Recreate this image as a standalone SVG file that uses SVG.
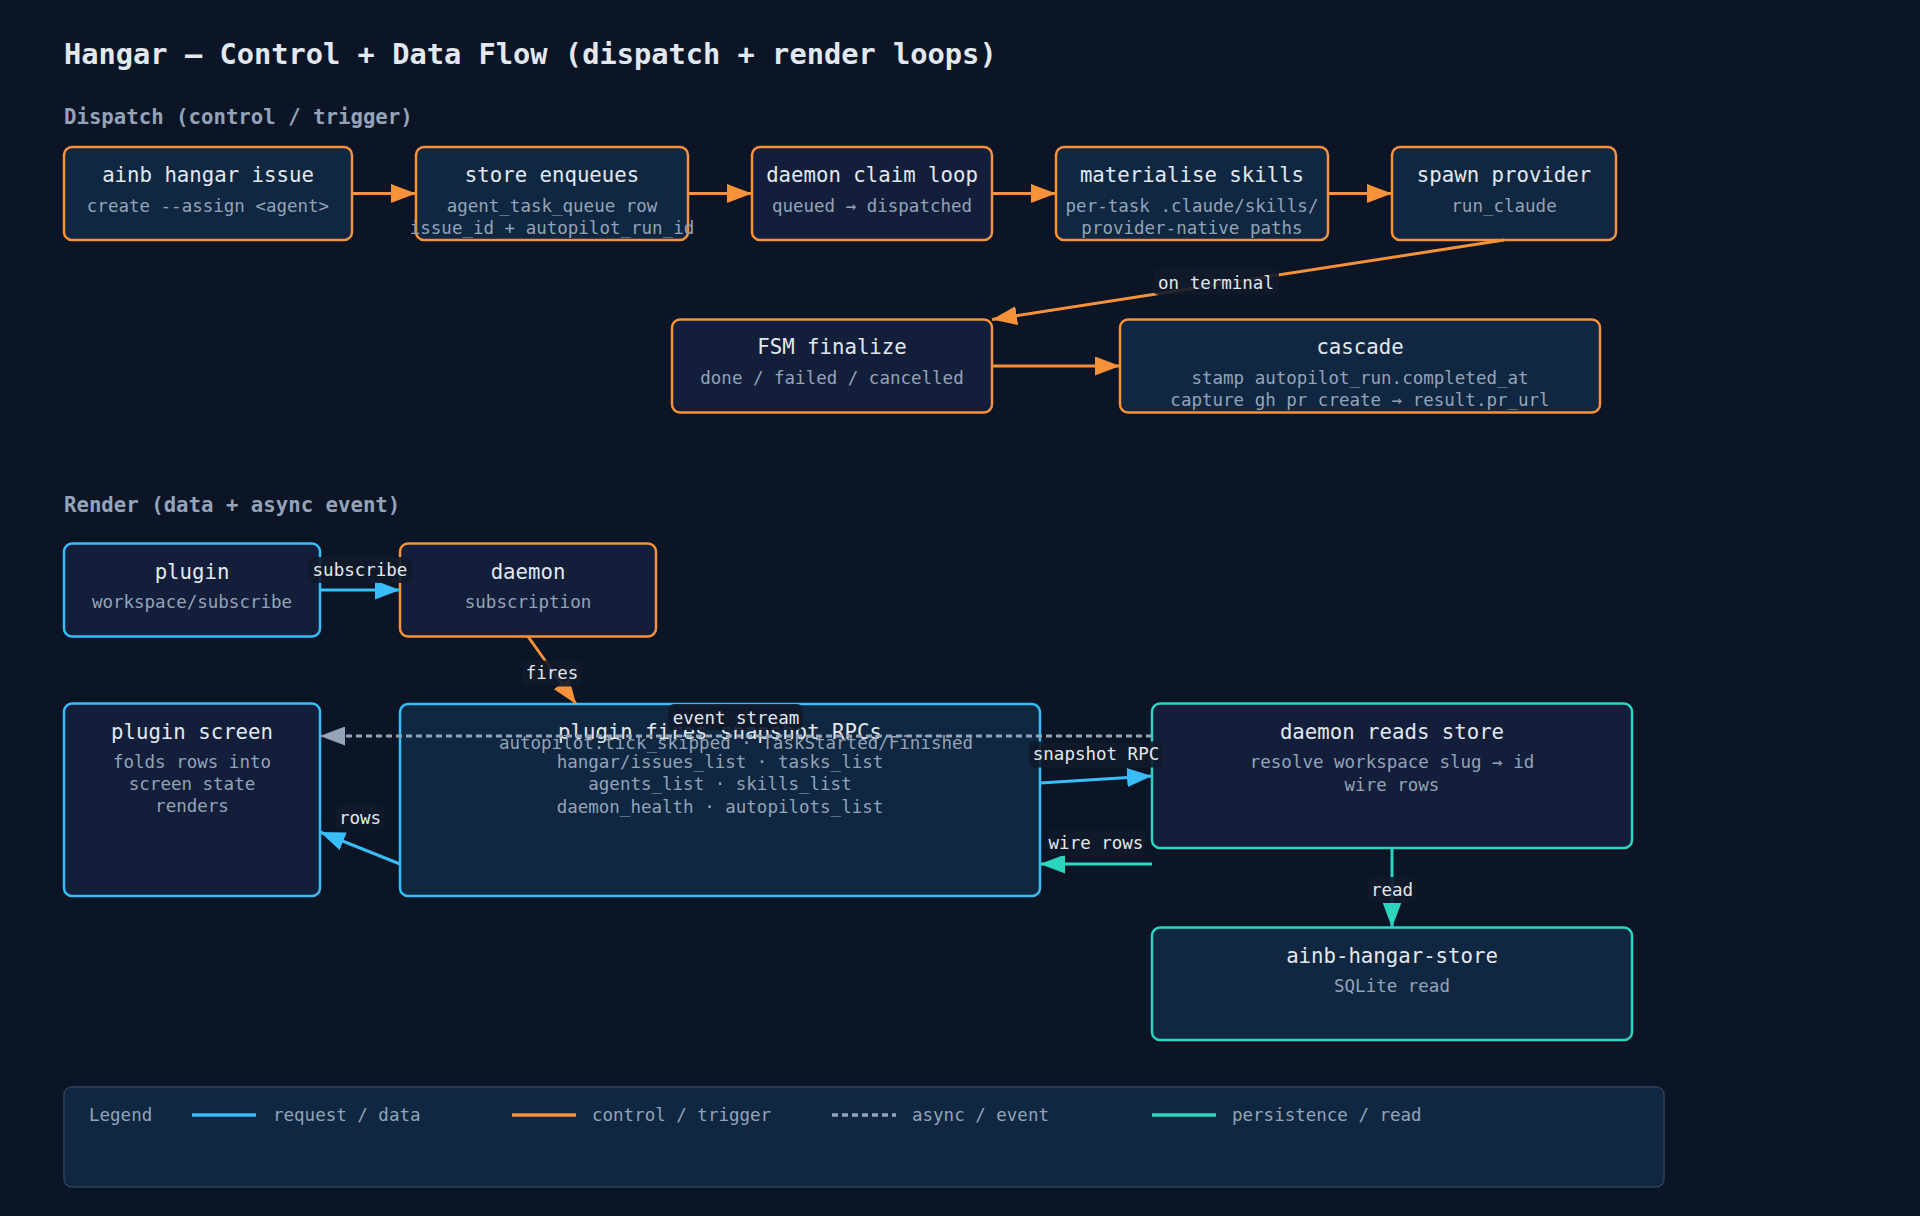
<svg xmlns="http://www.w3.org/2000/svg" width="1920" height="1216" viewBox="0 0 1920 1216">
<style>
text{font-family:"DejaVu Sans Mono","Liberation Mono",monospace}
.title{font-size:28.7px;font-weight:bold;fill:#e2e8f0}
.sec{font-size:20.7px;font-weight:bold;fill:#94a3b8}
.nt{font-size:20.7px;fill:#e2e8f0;text-anchor:middle}
.ns{font-size:17.5px;fill:#94a3b8;text-anchor:middle}
.el{font-size:17.5px;fill:#e2e8f0;text-anchor:middle}
.lg{font-size:17.5px;fill:#94a3b8}
.nb{fill:#0f2741;stroke-width:2.5}
.np{fill:#131f3a;stroke-width:2.5}
.so{stroke:#f7913a}
.sb{stroke:#38bdf8}
.st{stroke:#2dd4bf}
.e{fill:none;stroke-width:3}
.pill{fill:#0f1a2b;fill-opacity:0.9}
</style>
<defs>
<marker id="ao" markerUnits="userSpaceOnUse" markerWidth="25" markerHeight="19" refX="25" refY="9.5" orient="auto"><path d="M0,0 L25,9.5 L0,19 z" fill="#f7913a"/></marker>
<marker id="ab" markerUnits="userSpaceOnUse" markerWidth="25" markerHeight="19" refX="25" refY="9.5" orient="auto"><path d="M0,0 L25,9.5 L0,19 z" fill="#38bdf8"/></marker>
<marker id="at" markerUnits="userSpaceOnUse" markerWidth="25" markerHeight="19" refX="25" refY="9.5" orient="auto"><path d="M0,0 L25,9.5 L0,19 z" fill="#2dd4bf"/></marker>
<marker id="ag" markerUnits="userSpaceOnUse" markerWidth="25" markerHeight="19" refX="25" refY="9.5" orient="auto"><path d="M0,0 L25,9.5 L0,19 z" fill="#94a3b8"/></marker>
</defs>
<rect width="1920" height="1216" fill="#0b1526"/>
<text class="title" x="64" y="64">Hangar — Control + Data Flow (dispatch + render loops)</text>
<text class="sec" x="64" y="124">Dispatch (control / trigger)</text>
<text class="sec" x="64" y="512">Render (data + async event)</text>

<g id="n-issue"><rect class="nb so" x="64" y="147" width="288" height="93" rx="8"/><text class="nt" x="208" y="182">ainb hangar issue</text><text class="ns" x="208" y="212">create --assign &lt;agent&gt;</text></g>
<g id="n-enqueue"><rect class="nb so" x="416" y="147" width="272" height="93" rx="8"/><text class="nt" x="552" y="182">store enqueues</text><text class="ns" x="552" y="212">agent_task_queue row</text><text class="ns" x="552" y="234">issue_id + autopilot_run_id</text></g>
<g id="n-claim"><rect class="np so" x="752" y="147" width="240" height="93" rx="8"/><text class="nt" x="872" y="182">daemon claim loop</text><text class="ns" x="872" y="212">queued → dispatched</text></g>
<g id="n-skills"><rect class="nb so" x="1056" y="147" width="272" height="93" rx="8"/><text class="nt" x="1192" y="182">materialise skills</text><text class="ns" x="1192" y="212">per-task .claude/skills/</text><text class="ns" x="1192" y="234">provider-native paths</text></g>
<g id="n-spawn"><rect class="nb so" x="1392" y="147" width="224" height="93" rx="8"/><text class="nt" x="1504" y="182">spawn provider</text><text class="ns" x="1504" y="212">run_claude</text></g>
<g id="n-fsm"><rect class="np so" x="672" y="319.5" width="320" height="93" rx="8"/><text class="nt" x="832" y="354">FSM finalize</text><text class="ns" x="832" y="384">done / failed / cancelled</text></g>
<g id="n-cascade"><rect class="nb so" x="1120" y="319.5" width="480" height="93" rx="8"/><text class="nt" x="1360" y="354">cascade</text><text class="ns" x="1360" y="384">stamp autopilot_run.completed_at</text><text class="ns" x="1360" y="406">capture gh pr create → result.pr_url</text></g>

<g id="n-plugin"><rect class="np sb" x="64" y="543.5" width="256" height="93" rx="8"/><text class="nt" x="192" y="579">plugin</text><text class="ns" x="192" y="608">workspace/subscribe</text></g>
<g id="n-daemon"><rect class="np so" x="400" y="543.5" width="256" height="93" rx="8"/><text class="nt" x="528" y="579">daemon</text><text class="ns" x="528" y="608">subscription</text></g>
<g id="n-screen"><rect class="np sb" x="64" y="703.5" width="256" height="192.5" rx="8"/><text class="nt" x="192" y="739">plugin screen</text><text class="ns" x="192" y="768">folds rows into</text><text class="ns" x="192" y="790">screen state</text><text class="ns" x="192" y="812">renders</text></g>
<g id="n-fires"><rect class="nb sb" x="400" y="704" width="640" height="192" rx="8"/><text class="nt" x="720" y="739">plugin fires snapshot RPCs</text><text class="ns" x="720" y="768">hangar/issues_list · tasks_list</text><text class="ns" x="720" y="790">agents_list · skills_list</text><text class="ns" x="720" y="813">daemon_health · autopilots_list</text></g>
<g id="n-reads"><rect class="np st" x="1152" y="703.5" width="480" height="144.5" rx="8"/><text class="nt" x="1392" y="739">daemon reads store</text><text class="ns" x="1392" y="768">resolve workspace slug → id</text><text class="ns" x="1392" y="791">wire rows</text></g>
<g id="n-store"><rect class="nb st" x="1152" y="927.5" width="480" height="112.5" rx="8"/><text class="nt" x="1392" y="963">ainb-hangar-store</text><text class="ns" x="1392" y="992">SQLite read</text></g>

<g id="connectors">
<line class="e so" x1="352" y1="193.5" x2="416" y2="193.5" marker-end="url(#ao)"/>
<line class="e so" x1="688" y1="193.5" x2="752" y2="193.5" marker-end="url(#ao)"/>
<line class="e so" x1="992" y1="193.5" x2="1056" y2="193.5" marker-end="url(#ao)"/>
<line class="e so" x1="1328" y1="193.5" x2="1392" y2="193.5" marker-end="url(#ao)"/>
<line class="e so" x1="1504" y1="240" x2="992" y2="319.5" marker-end="url(#ao)"/>
<rect class="pill" x="1153" y="269" width="126" height="26" rx="6"/>
<text class="el" x="1216" y="288.5">on terminal</text>
<line class="e so" x1="992" y1="366" x2="1120" y2="366" marker-end="url(#ao)"/>

<line class="e sb" x1="320" y1="590" x2="400" y2="590" marker-end="url(#ab)"/>
<rect class="pill" x="308" y="557" width="104" height="26" rx="6"/>
<text class="el" x="360" y="576">subscribe</text>
<line class="e so" x1="528" y1="636.5" x2="576" y2="704" marker-end="url(#ao)"/>
<rect class="pill" x="522" y="660.5" width="60" height="26" rx="6"/>
<text class="el" x="552" y="679">fires</text>
<line class="e" stroke="#94a3b8" stroke-dasharray="6 4" x1="1152" y1="736" x2="320" y2="736" marker-end="url(#ag)"/>
<rect class="pill" x="668" y="704" width="135" height="26" rx="6"/>
<text class="el" x="736" y="723.5">event stream</text>
<text class="ns" x="736" y="749">autopilot.tick_skipped · TaskStarted/Finished</text>
<line class="e sb" x1="1040" y1="783" x2="1152" y2="776" marker-end="url(#ab)"/>
<rect class="pill" x="1029" y="741.5" width="134" height="26" rx="6"/>
<text class="el" x="1096" y="760">snapshot RPC</text>
<line class="e st" x1="1152" y1="864" x2="1040" y2="864" marker-end="url(#at)"/>
<rect class="pill" x="1047" y="830" width="98" height="26" rx="6"/>
<text class="el" x="1096" y="848.5">wire rows</text>
<line class="e sb" x1="400" y1="864" x2="320" y2="832" marker-end="url(#ab)"/>
<rect class="pill" x="336" y="805" width="48" height="26" rx="6"/>
<text class="el" x="360" y="824">rows</text>
<line class="e st" x1="1392" y1="848" x2="1392" y2="927.5" marker-end="url(#at)"/>
<rect class="pill" x="1368" y="877" width="48" height="26" rx="6"/>
<text class="el" x="1392" y="896">read</text>
</g>

<g id="legend">
<rect x="64" y="1087" width="1600" height="100" rx="8" fill="#0f2741" stroke="#334155" stroke-width="1.5"/>
<text class="lg" x="89" y="1121">Legend</text>
<line x1="192" y1="1115" x2="256" y2="1115" stroke="#38bdf8" stroke-width="3.5"/>
<text class="lg" x="273" y="1121">request / data</text>
<line x1="512" y1="1115" x2="576" y2="1115" stroke="#f7913a" stroke-width="3.5"/>
<text class="lg" x="592" y="1121">control / trigger</text>
<line x1="832" y1="1115" x2="896" y2="1115" stroke="#94a3b8" stroke-width="3.5" stroke-dasharray="6 4"/>
<text class="lg" x="912" y="1121">async / event</text>
<line x1="1152" y1="1115" x2="1216" y2="1115" stroke="#2dd4bf" stroke-width="3.5"/>
<text class="lg" x="1232" y="1121">persistence / read</text>
</g>
</svg>
